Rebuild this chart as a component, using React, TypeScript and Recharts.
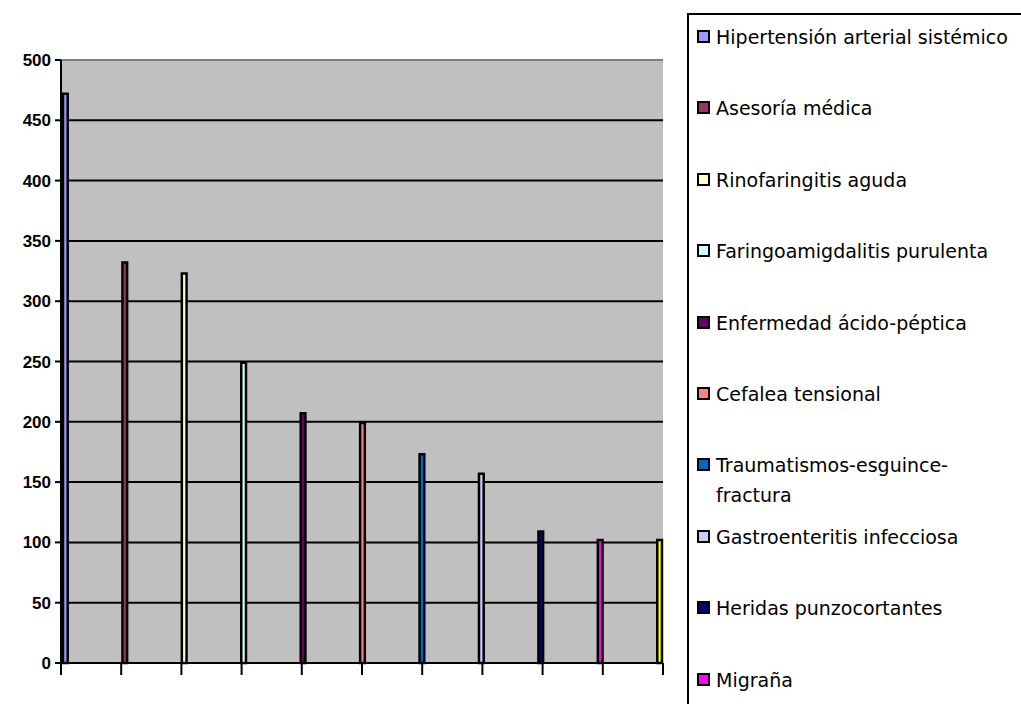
import { Bar, BarChart, CartesianGrid, ReferenceLine, XAxis, YAxis } from "recharts";

const seriesNames = [
  "Hipertensión arterial sistémico",
  "Asesoría médica",
  "Rinofaringitis aguda",
  "Faringoamigdalitis purulenta",
  "Enfermedad ácido-péptica",
  "Cefalea tensional",
  "Traumatismos-esguince-\nfractura",
  "Gastroenteritis infecciosa",
  "Heridas punzocortantes",
  "Migraña",
  "Otros"
];
const seriesValues = [472, 332, 323, 249, 207, 199, 173, 157, 109, 102, 102];
const seriesColors = [
  "#9999ff", "#993366", "#ffffcc", "#ccffff", "#660066", "#ff8080",
  "#0066cc", "#ccccff", "#000080", "#ff00ff", "#ffff00"
];
const yTicks = [0, 50, 100, 150, 200, 250, 300, 350, 400, 450, 500];
const edgeTicks = [0, 1, 2, 3, 4, 5, 6, 7, 8, 9, 10, 11];

// one category per disease, only its own series filled (Excel-style diagonal data)
const data = seriesNames.map((name, i) => {
  const row: Record<string, string | number> = { name };
  row[`s${i}`] = seriesValues[i];
  return row;
});

const legendFont = '"Comic Sans MS", "DejaVu Sans", sans-serif';

export default function App() {
  return (
    <div style={{ position: "absolute", left: 0, top: 0, width: 1021, height: 704, overflow: "hidden", background: "#fff" }}>
      <BarChart
        width={680}
        height={704}
        data={data}
        margin={{ top: 60, right: 17, bottom: 11, left: 0 }}
        barGap={0}
        barCategoryGap={0}
      >
        <CartesianGrid vertical={false} stroke="#000" strokeWidth={2} fill="#c0c0c0" fillOpacity={1} />
        <XAxis dataKey="name" height={0} axisLine={false} tickLine={false} tick={false} />
        <XAxis
          xAxisId="edges"
          type="number"
          domain={[0, 11]}
          ticks={edgeTicks}
          height={30}
          axisLine={{ stroke: "#000", strokeWidth: 2 }}
          tickLine={{ stroke: "#000", strokeWidth: 2 }}
          tickSize={12}
          tickFormatter={() => ""}
        />
        <YAxis
          domain={[0, 500]}
          ticks={yTicks}
          width={61}
          axisLine={{ stroke: "#000", strokeWidth: 2 }}
          tickLine={{ stroke: "#000", strokeWidth: 2 }}
          tickSize={6}
          tickMargin={4}
          tick={{ fill: "#000", fontSize: 17, fontWeight: "bold", fontFamily: "'Liberation Sans', Arial, sans-serif" }}
        />
        <ReferenceLine y={500} stroke="#808080" strokeWidth={2} />
        <ReferenceLine xAxisId="edges" x={11} stroke="#808080" strokeWidth={2} />
        {seriesNames.map((name, i) => (
          <Bar
            key={name}
            dataKey={`s${i}`}
            name={name}
            fill={seriesColors[i]}
            stroke="#000"
            strokeWidth={2.5}
            barSize={4.7}
            isAnimationActive={false}
          />
        ))}
      </BarChart>

      <div
        style={{
          position: "absolute",
          left: 687,
          top: 13,
          width: 420,
          height: 760,
          border: "2px solid #000",
          background: "#fff",
          fontFamily: legendFont,
          fontSize: 19,
          color: "#000"
        }}
      >
        {seriesNames.slice(0, 10).map((name, i) => (
          <div
            key={name}
            style={{ position: "absolute", left: 8, top: 7 + i * 71.4, display: "flex", alignItems: "flex-start" }}
          >
            <span
              style={{
                width: 9,
                height: 9,
                marginTop: 8,
                border: "2px solid #000",
                background: seriesColors[i],
                flex: "none"
              }}
            />
            <span style={{ marginLeft: 6, lineHeight: "30px", whiteSpace: "pre" }}>{name}</span>
          </div>
        ))}
      </div>
    </div>
  );
}
